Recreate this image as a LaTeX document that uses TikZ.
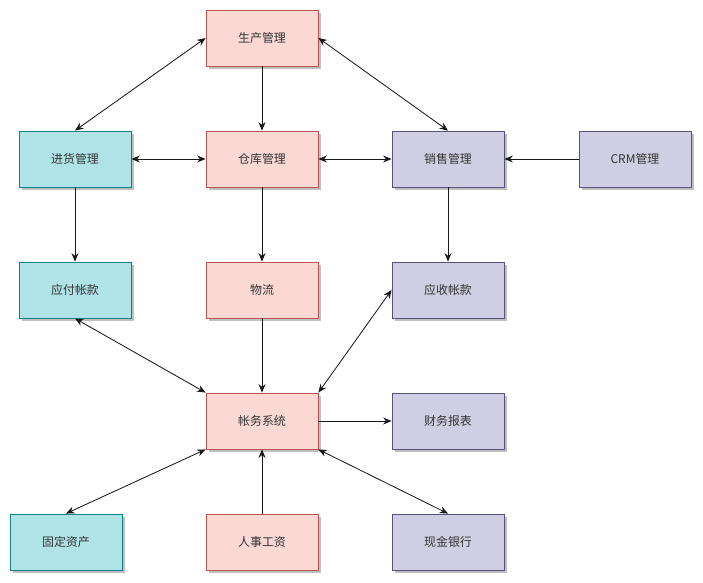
\documentclass[tikz,border=0pt]{standalone}
\usepackage{fontspec}
\setmainfont{Noto Sans CJK SC}
\usetikzlibrary{arrows.meta,shadows}

\definecolor{pinkfill}{HTML}{FAD9D5}
\definecolor{pinkline}{HTML}{B85450}
\definecolor{tealfill}{HTML}{B0E3E6}
\definecolor{tealline}{HTML}{0E8088}
\definecolor{lilacfill}{HTML}{D0CEE2}
\definecolor{lilacline}{HTML}{56517E}

\tikzset{
  box/.style={draw,line width=0.6pt,minimum width=2.8cm,minimum height=1.4cm,
    font=\fontsize{8.5}{10}\selectfont,text=black!80,
    drop shadow={shadow xshift=2pt,shadow yshift=-2pt,opacity=0.25,fill=black}},
  pinkbox/.style={box,fill=pinkfill,draw=pinkline},
  tealbox/.style={box,fill=tealfill,draw=tealline},
  lilacbox/.style={box,fill=lilacfill,draw=lilacline},
  link/.style={line width=0.6pt,black!90}
}

\begin{document}
\begin{tikzpicture}[x=0.025cm,y=-0.025cm,>={Stealth[length=6pt,width=5pt]}]
\useasboundingbox (0,0) rectangle (703,583);
\node[pinkbox] (prod) at (262,38) {生产管理};
\node[tealbox] (purch) at (75,159) {进货管理};
\node[pinkbox] (store) at (262,159) {仓库管理};
\node[lilacbox] (sales) at (448,159) {销售管理};
\node[lilacbox] (crm) at (635,159) {CRM管理};
\node[tealbox] (payable) at (75,290) {应付帐款};
\node[pinkbox] (logis) at (262,290) {物流};
\node[lilacbox] (recv) at (448,290) {应收帐款};
\node[pinkbox] (acct) at (262,421) {帐务系统};
\node[lilacbox] (report) at (448,421) {财务报表};
\node[tealbox] (assets) at (66,542) {固定资产};
\node[pinkbox] (payroll) at (262,542) {人事工资};
\node[lilacbox] (bank) at (448,542) {现金银行};

\draw[link,<->] (prod.west) -- (purch.north);
\draw[link,<->] (prod.east) -- (sales.north);
\draw[link,->] (prod) -- (store);
\draw[link,<->] (purch) -- (store);
\draw[link,<->] (store) -- (sales);
\draw[link,->] (crm) -- (sales);
\draw[link,->] (purch) -- (payable);
\draw[link,->] (store) -- (logis);
\draw[link,->] (sales) -- (recv);
\draw[link,<->] (payable.south) -- (acct.north west);
\draw[link,->] (logis) -- (acct);
\draw[link,<->] (acct.north east) -- (recv.west);
\draw[link,->] (acct) -- (report);
\draw[link,<->] (assets.north) -- (acct.south west);
\draw[link,->] (payroll) -- (acct);
\draw[link,<->] (bank.north) -- (acct.south east);
\end{tikzpicture}
\end{document}
